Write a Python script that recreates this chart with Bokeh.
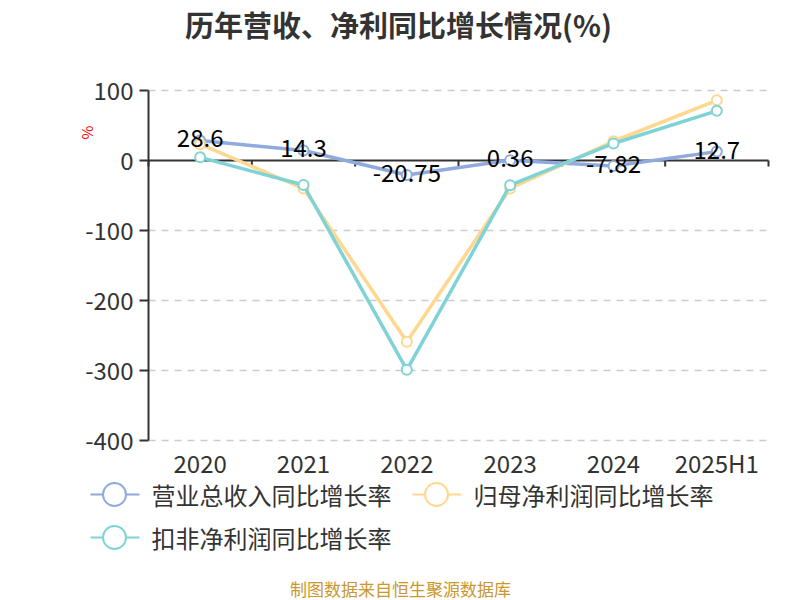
import math
from bokeh.plotting import figure
from bokeh.models import Range1d, FixedTicker
from bokeh.embed import file_html
from bokeh.resources import INLINE
from bokeh.core.properties import value

# ---------------- data ----------------
categories = ["2020", "2021", "2022", "2023", "2024", "2025H1"]
revenue_growth = [28.6, 14.3, -20.75, 0.36, -7.82, 12.7]
parent_profit_growth = [23.3, -40.0, -259.0, -40.0, 27.5, 86.0]
deducted_profit_growth = [4.5, -35.0, -299.0, -35.3, 24.3, 71.0]
y_ticks = [100, 0, -100, -200, -300, -400]
series_names = ["营业总收入同比增长率", "归母净利润同比增长率", "扣非净利润同比增长率"]
series_colors = ["#8FAADC", "#FFD88F", "#7FD3D6"]
title_text = "历年营收、净利同比增长情况(%)"
unit_text = "%"
footer_text = "制图数据来自恒生聚源数据库"

FONT = "Noto Sans CJK SC"
n = len(categories)
xs = [i + 0.5 for i in range(n)]

# ---------------- layout constants (pixels) ----------------
W, H = 800, 600
FRAME_L, FRAME_R = 80, 784
FRAME_B = 598
PLOT_L, PLOT_R = 148, 768           # category band area
PLOT_T, PLOT_B = 90, 440            # y = 100 .. y = -400
Y_MAX, Y_MIN = 100, -400
ppx = (PLOT_R - PLOT_L) / n
ppy = (PLOT_B - PLOT_T) / (Y_MAX - Y_MIN)


def dx(px):
    return (px - PLOT_L) / ppx


def dy(py):
    return Y_MAX + (PLOT_T - py) / ppy


p = figure(width=W, height=H, title=None,
           x_range=Range1d(dx(FRAME_L), dx(FRAME_R)),
           y_range=Range1d(dy(FRAME_B), dy(0)),
           output_backend="svg", toolbar_location=None,
           min_border_left=FRAME_L, min_border_right=W - FRAME_R,
           min_border_top=0, min_border_bottom=H - FRAME_B)
p.outline_line_color = None
p.background_fill_color = "white"
p.border_fill_color = "white"
p.xgrid.visible = False
p.ygrid.visible = False

# y axis, drawn at x = 0 (left edge of the category area)
ya = p.yaxis[0]
ya.fixed_location = 0
ya.bounds = (Y_MIN, Y_MAX)
ya.ticker = FixedTicker(ticks=y_ticks)
ya.major_label_overrides = {t: str(t) for t in y_ticks}
ya.axis_line_color = "#333333"
ya.axis_line_width = 2
ya.major_tick_line_color = "#333333"
ya.major_tick_line_width = 2
ya.major_tick_in = 0
ya.major_tick_out = 9
ya.minor_tick_line_color = None
ya.major_label_standoff = 6
ya.major_label_text_font = FONT
ya.major_label_text_font_size = "24px"
ya.major_label_text_color = "#333333"

# x axis: category labels under the plot area
xa = p.xaxis[0]
xa.fixed_location = dy(480)
xa.ticker = FixedTicker(ticks=xs)
xa.major_label_overrides = {x: c for x, c in zip(xs, categories)}
xa.axis_line_color = None
xa.major_tick_line_color = None
xa.minor_tick_line_color = None
xa.major_tick_in = 0
xa.major_tick_out = 0
xa.major_label_standoff = -36
xa.major_label_text_font = FONT
xa.major_label_text_font_size = "24px"
xa.major_label_text_color = "#333333"

# dashed horizontal grid lines over the category area
grid_vals = [t for t in y_ticks if t != 0]
p.segment(x0=[0] * len(grid_vals), x1=[n] * len(grid_vals), y0=grid_vals, y1=grid_vals,
          line_color="#cccccc", line_width=1.5, line_dash="7 6")

# zero axis line with ticks at category boundaries
p.segment(x0=[0], x1=[n], y0=[0], y1=[0], line_color="#333333", line_width=2)
bounds = list(range(0, n + 1))
tick_len = 6 / ppy
p.segment(x0=bounds, y0=[0] * len(bounds), x1=bounds, y1=[-tick_len] * len(bounds),
          line_color="#333333", line_width=2)

# series
for vals, col in zip([revenue_growth, parent_profit_growth, deducted_profit_growth], series_colors):
    p.line(xs, vals, line_color=col, line_width=3.5)
    p.scatter(xs, vals, size=10, fill_color="white", line_color=col, line_width=2)

# data labels (revenue)
p.text(x=xs, y=revenue_growth, text=[f"{v:g}" for v in revenue_growth],
       text_font=value(FONT), text_font_size="24px", text_color="#000000",
       text_align="center", text_baseline="middle", y_offset=-2)

# title and unit
p.text(x=[dx(398)], y=[dy(23)], text=[title_text], text_font=value(FONT),
       text_font_size="29px", text_font_style="bold", text_color="#333333",
       text_align="center", text_baseline="middle")
p.text(x=[dx(86)], y=[dy(132)], text=[unit_text], angle=math.pi / 2, text_font=value(FONT),
       text_font_size="15px", text_color="#ff0000",
       text_align="center", text_baseline="middle")

# legend (line + hollow circle + label)
legend_pos = [(90, 494), (412, 494), (90, 537)]
for (lx, ly), name, col in zip(legend_pos, series_names, series_colors):
    p.line([dx(lx), dx(lx + 49)], [dy(ly), dy(ly)], line_color=col, line_width=2)
    p.scatter([dx(lx + 24)], [dy(ly)], size=23, fill_color="white", line_color=col, line_width=2)
    p.text(x=[dx(lx + 61)], y=[dy(ly)], text=[name], text_font=value(FONT), text_font_size="24px",
           text_color="#333333", text_align="left", text_baseline="middle")

# footer
p.text(x=[dx(400)], y=[dy(588)], text=[footer_text], text_font=value(FONT), text_font_size="17px",
       text_color="#C9982F", text_align="center", text_baseline="middle")

open("out.html", "w").write(file_html(p, INLINE))
